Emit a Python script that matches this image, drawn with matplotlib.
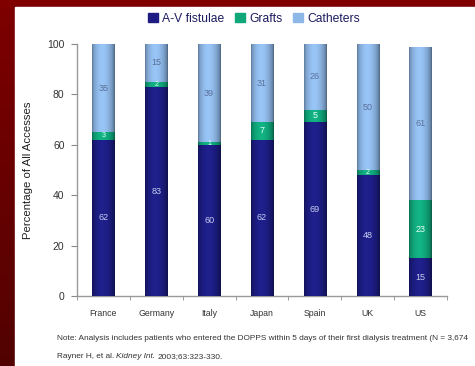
import numpy as np
import matplotlib
matplotlib.use("Agg")
import matplotlib.pyplot as plt
from matplotlib.patches import Rectangle
from matplotlib.colors import to_rgb

countries = ["France", "Germany", "Italy", "Japan", "Spain", "UK", "US"]
av_fistulae = [62, 83, 60, 62, 69, 48, 15]
grafts = [3, 2, 1, 7, 5, 2, 23]
catheters = [35, 15, 39, 31, 26, 50, 61]
series_names = ["A-V fistulae", "Grafts", "Catheters"]
yticks = [0, 20, 40, 60, 80, 100]

colors = ["#1c1c82", "#0fa77a", "#8db7e6"]
label_colors = ["#c4cbec", "#e6fff4", "#5a6f9a"]

W, H = 475, 366
fig = plt.figure(figsize=(W / 100, H / 100), dpi=100)

# maroon frame with a darker lower-left edge
bg = fig.add_axes([0, 0, 1, 1], zorder=-10)
bg.set_axis_off()
grad = np.linspace(0, 1, 200)[:, None]
top = np.array(to_rgb("#7e0000"))
bot = np.array(to_rgb("#520202"))
img = top[None, None, :] * (1 - grad[..., None]) + bot[None, None, :] * grad[..., None]
img = np.repeat(img, 2, axis=1)
bg.imshow(img, extent=[0, 1, 0, 1], aspect="auto", origin="upper")
bg.add_patch(Rectangle((0, 0.98), 1, 0.02, color="#800000", transform=bg.transAxes))
bg.add_patch(Rectangle((15 / W, 0), 1, (H - 7) / H, color="white", transform=bg.transAxes))
bg.set_xlim(0, 1)
bg.set_ylim(0, 1)

ax = fig.add_axes([77 / W, (H - 296) / H, (447 - 77) / W, (296 - 44) / H])
ax.set_facecolor("none")

x = np.arange(len(countries))
width = 0.42


def shaded(base):
    """Horizontal cylinder-like shading for a bar segment."""
    t = np.linspace(0, 1, 64)
    f = 0.62 + 0.5 * np.sin(np.pi * t) ** 0.5 - 0.12 * t
    c = np.array(to_rgb(base))
    rgb = np.clip(c[None, :] * f[:, None] + 0.15 * (f[:, None] - 1).clip(0), 0, 1)
    return rgb[None, :, :]


bottoms = np.zeros(len(countries))
containers = []
for vals, col in zip([av_fistulae, grafts, catheters], colors):
    bars = ax.bar(x, vals, width, bottom=bottoms, color=col, edgecolor="none", zorder=2)
    containers.append(bars)
    for rect in bars:
        xr, yr = rect.get_x(), rect.get_y()
        w, h = rect.get_width(), rect.get_height()
        if h <= 0:
            continue
        im = ax.imshow(shaded(col), extent=[xr, xr + w, yr, yr + h], aspect="auto",
                       zorder=3, interpolation="bilinear")
        im.set_clip_path(rect)
    bottoms += np.array(vals)

# value labels inside each segment
for bars, vals, lc in zip(containers, [av_fistulae, grafts, catheters], label_colors):
    for rect, v in zip(bars, vals):
        fs = 6.5 if v >= 5 else 5
        ax.text(rect.get_x() + rect.get_width() / 2, rect.get_y() + rect.get_height() / 2,
                str(v), ha="center", va="center", fontsize=fs, color=lc, zorder=5,
                family="Liberation Sans")

ax.set_xlim(-0.5, len(countries) - 0.5)
ax.set_ylim(0, 100)
ax.set_yticks(yticks)
ax.set_yticklabels([str(v) for v in yticks], fontsize=7.5, color="#333333", family="Liberation Sans")
ax.set_xticks(x)
ax.set_xticklabels(countries, fontsize=6.3, color="#333333", family="Liberation Sans")
ax.set_xticks(np.arange(-0.5, len(countries)), minor=True)
ax.tick_params(axis="x", which="major", length=0, pad=9)
ax.tick_params(axis="x", which="minor", length=3, color="#888888", direction="out")
ax.tick_params(axis="y", length=4, color="#888888", direction="out", pad=5)
for s in ["top", "right"]:
    ax.spines[s].set_visible(False)
for s in ["left", "bottom"]:
    ax.spines[s].set_color("#999999")
    ax.spines[s].set_linewidth(1.0)

ax.set_ylabel("Percentage of All Accesses", fontsize=8.2, color="#222222",
              family="Liberation Sans", labelpad=10)

handles = [Rectangle((0, 0), 1, 1, color=c) for c in colors]
fig.legend(handles, series_names, loc="center", bbox_to_anchor=(254 / W, 1 - 19 / H),
           ncol=3, frameon=False, handlelength=0.8, handleheight=0.8,
           handletextpad=0.35, columnspacing=0.9, labelcolor="#1c1c60",
           prop={"family": "Liberation Sans", "size": 8.7})

note_fs = 5.95
fig.text(57 / W, 1 - 338 / H,
         "Note: Analysis includes patients who entered the DOPPS within 5 days of their first dialysis treatment (N = 3,674",
         fontsize=note_fs, color="#333333", va="center", family="Liberation Sans")
t1 = fig.text(57 / W, 1 - 357 / H, "Rayner H, et al. ", fontsize=note_fs, color="#333333",
              va="center", family="Liberation Sans")
fig.canvas.draw()
bb = t1.get_window_extent()
t2 = fig.text(bb.x1 / W, 1 - 357 / H, "Kidney Int.", fontsize=note_fs, color="#333333",
              va="center", style="italic", family="Liberation Sans")
bb2 = t2.get_window_extent(fig.canvas.get_renderer())
fig.text(bb2.x1 / W + 0.004, 1 - 357 / H, "2003;63:323-330.", fontsize=note_fs, color="#333333",
         va="center", family="Liberation Sans")

fig.savefig("out.png", dpi=100)
